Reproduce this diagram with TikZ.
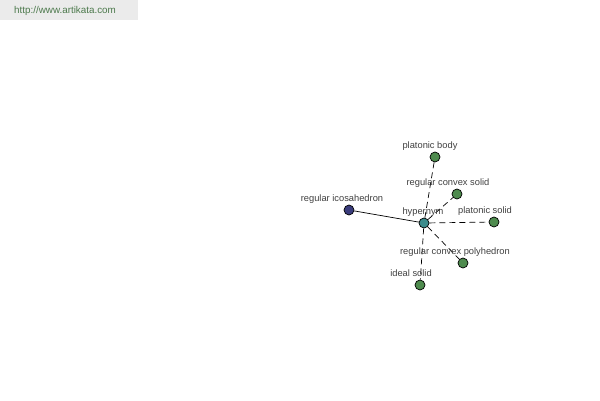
\documentclass[tikz,border=0pt]{standalone}
\usepackage{fontspec}
\setmainfont{Liberation Sans}
\usepackage{tikz}

\begin{document}
\begin{tikzpicture}
[x=0.02cm,y=-0.02cm]
\tikzstyle{word node}=[circle,draw,inner sep=0,minimum size=10*0.02cm]
\tikzstyle{word label}=[font=\fontsize{5.3}{6}\selectfont,text=black!75,inner sep=1pt]
\tikzstyle{link}=[dash pattern=on 3.4pt off 2.3pt]
\definecolor{leafgreen}{HTML}{4E8B4E}
\definecolor{hubteal}{HTML}{3C8C8C}
\definecolor{rootblue}{HTML}{3A3C7C}

\useasboundingbox (0,0) rectangle (600,400);
\fill[black!8] (0,0) rectangle (138,20);
\node(site)[anchor=west,font=\fontsize{5.6}{6}\selectfont,text=green!25!black!70]at(8,11){http://www.artikata.com};

\node(hub)[word node,fill=hubteal]at(424,223){};
\node(ico)[word node,fill=rootblue]at(349,210){};
\node(body)[word node,fill=leafgreen]at(435,157){};
\node(convex)[word node,fill=leafgreen]at(457,194){};
\node(plato)[word node,fill=leafgreen]at(494,222){};
\node(poly)[word node,fill=leafgreen]at(463,263){};
\node(ideal)[word node,fill=leafgreen]at(420,285){};

\draw(hub)--(ico);
\draw[link](hub)--(body);
\draw[link](hub)--(convex);
\draw[link](hub)--(plato);
\draw[link](hub)--(poly);
\draw[link](hub)--(ideal);

\node(hub label)[word label]at(423,212){hypernym};
\node(ico label)[word label]at(342,199){regular icosahedron};
\node(body label)[word label]at(430,146){platonic body};
\node(convex label)[word label]at(448,183){regular convex solid};
\node(plato label)[word label]at(485,211){platonic solid};
\node(poly label)[word label]at(455,252){regular convex polyhedron};
\node(ideal label)[word label]at(411,273){ideal solid};
\end{tikzpicture}
\end{document}
